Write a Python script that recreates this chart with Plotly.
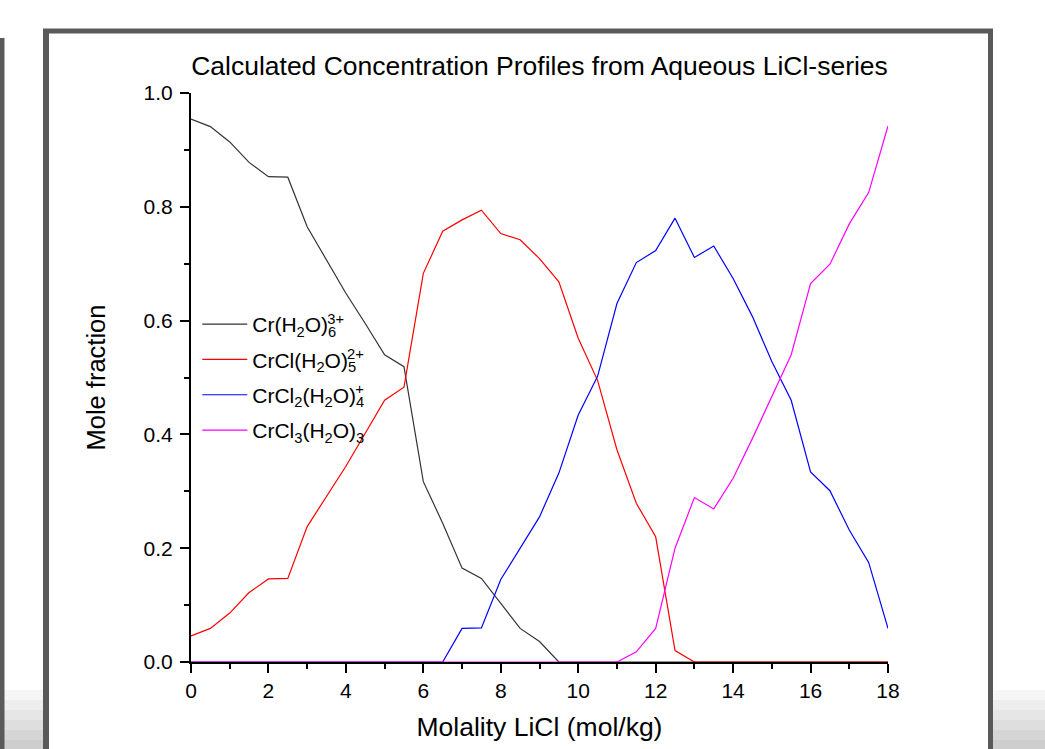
import plotly.graph_objects as go

# ---- data ----
molality = [0, 0.5, 1, 1.5, 2, 2.5, 3, 3.5, 4, 4.5, 5, 5.5, 6, 6.5, 7, 7.5, 8, 8.5, 9,
            9.5, 10, 10.5, 11, 11.5, 12, 12.5, 13, 13.5, 14, 14.5, 15, 15.5, 16, 16.5,
            17, 17.5, 18]

cr_h2o6 = [0.954, 0.941, 0.914, 0.878, 0.853, 0.852, 0.765, 0.707, 0.648, 0.595, 0.540,
           0.519, 0.317, 0.244, 0.165, 0.147, 0.103, 0.059, 0.036, 0.0, 0.0, 0.0, 0.0,
           0.0, 0.0, 0.0, 0.0, 0.0, 0.0, 0.0, 0.0, 0.0, 0.0, 0.0, 0.0, 0.0, 0.0]

crcl_h2o5 = [0.046, 0.059, 0.086, 0.122, 0.146, 0.147, 0.238, 0.290, 0.344, 0.402, 0.460,
             0.483, 0.683, 0.757, 0.777, 0.794, 0.753, 0.742, 0.709, 0.668, 0.569, 0.495,
             0.373, 0.279, 0.220, 0.020, 0.0, 0.0, 0.0, 0.0, 0.0, 0.0, 0.0, 0.0, 0.0, 0.0,
             0.0]

crcl2_h2o4 = [0.0, 0.0, 0.0, 0.0, 0.0, 0.0, 0.0, 0.0, 0.0, 0.0, 0.0, 0.0, 0.0, 0.0,
              0.059, 0.060, 0.145, 0.200, 0.255, 0.332, 0.434, 0.502, 0.630, 0.702, 0.723,
              0.780, 0.711, 0.731, 0.674, 0.607, 0.528, 0.460, 0.334, 0.301, 0.232, 0.175,
              0.059]

crcl3_h2o3 = [0.0, 0.0, 0.0, 0.0, 0.0, 0.0, 0.0, 0.0, 0.0, 0.0, 0.0, 0.0, 0.0, 0.0, 0.0,
              0.0, 0.0, 0.0, 0.0, 0.0, 0.0, 0.0, 0.0, 0.018, 0.059, 0.200, 0.289, 0.269,
              0.323, 0.393, 0.467, 0.540, 0.665, 0.699, 0.770, 0.825, 0.942]

series_names = [
    'Cr(H<sub>2</sub>O)<sub><span style="letter-spacing:-9px">6</span></sub><sup>3+</sup>',
    'CrCl(H<sub>2</sub>O)<sub><span style="letter-spacing:-9px">5</span></sub><sup>2+</sup>',
    'CrCl<sub>2</sub>(H<sub>2</sub>O)<sub><span style="letter-spacing:-9px">4</span></sub><sup>+</sup>',
    'CrCl<sub>3</sub>(H<sub>2</sub>O)<sub>3</sub>',
]
series_values = [cr_h2o6, crcl_h2o5, crcl2_h2o4, crcl3_h2o3]
series_colors = ["#333333", "#ff0000", "#0000ff", "#ff00ff"]

title_text = "Calculated Concentration Profiles from Aqueous LiCl-series"
x_title = "Molality LiCl (mol/kg)"
y_title = "Mole fraction"

FONT = "Liberation Sans, Arial, sans-serif"

# ---- layout geometry (pixels) ----
W, H = 1045, 749
L, R, T, B = 191, 888, 93, 662  # plot area edges


def px(x):
    return (x - L) / (R - L)


def py(y):
    return (B - y) / (B - T)


fig = go.Figure()
for i, (name, vals, col) in enumerate(zip(series_names, series_values, series_colors)):
    fig.add_trace(go.Scatter(x=molality, y=vals, mode="lines", name=name,
                             legendgroup=f"g{i}",
                             line=dict(color=col, width=1.2)))

shapes = []
# page frame (decorative, screenshot of a document)
frame_col = "#5a5a5a"
for i, g in enumerate(["#f6f6f6", "#eeeeee", "#e6e6e6", "#dedede", "#d6d6d6", "#cecece"]):
    y0 = 690 + i * 10
    shapes.append(dict(type="rect", xref="paper", yref="paper", layer="below",
                       x0=px(0), x1=px(46), y0=py(y0 + 10), y1=py(y0),
                       fillcolor=g, line=dict(width=0)))
    shapes.append(dict(type="rect", xref="paper", yref="paper", layer="below",
                       x0=px(990), x1=px(1045), y0=py(y0 + 10), y1=py(y0),
                       fillcolor=g, line=dict(width=0)))
shapes.append(dict(type="line", xref="paper", yref="paper", x0=px(46), x1=px(46),
                   y0=py(31), y1=py(760), line=dict(color=frame_col, width=6)))
shapes.append(dict(type="line", xref="paper", yref="paper", x0=px(990.5), x1=px(990.5),
                   y0=py(31), y1=py(760), line=dict(color=frame_col, width=5)))
shapes.append(dict(type="line", xref="paper", yref="paper", x0=px(43), x1=px(993),
                   y0=py(31), y1=py(31), line=dict(color=frame_col, width=5)))
shapes.append(dict(type="line", xref="paper", yref="paper", x0=px(2), x1=px(2),
                   y0=py(38), y1=py(760), line=dict(color=frame_col, width=5)))

fig.update_layout(
    width=W, height=H,
    margin=dict(l=L, r=W - R, t=T, b=H - B),
    paper_bgcolor="white", plot_bgcolor="white",
    font=dict(family=FONT, color="black"),
    title=dict(text=title_text, x=(L + R) / 2 / W, xanchor="center",
               y=1 - 66 / H, yanchor="middle", font=dict(size=26.5, family=FONT)),
    showlegend=True,
    legend=dict(x=0.009, y=py(304), xanchor="left", yanchor="top",
                bgcolor="rgba(0,0,0,0)", font=dict(size=21, family=FONT),
                tracegroupgap=5, itemwidth=45),
    shapes=shapes,
)

fig.update_xaxes(range=[0, 18], tickmode="linear", tick0=0, dtick=2,
                 showgrid=False, zeroline=False, showline=True, linecolor="black",
                 linewidth=2, ticks="outside", ticklen=9, tickwidth=2, tickcolor="black",
                 tickfont=dict(size=21, family=FONT),
                 minor=dict(dtick=1, ticks="outside", ticklen=5, tickwidth=2,
                            tickcolor="black", showgrid=False),
                 title=dict(text=x_title, font=dict(size=26.5, family=FONT), standoff=16),
                 layer="below traces")
fig.update_yaxes(range=[0, 1], tickmode="linear", tick0=0, dtick=0.2, tickformat=".1f",
                 showgrid=False, zeroline=False, showline=True, linecolor="black",
                 linewidth=2, ticks="outside", ticklen=9, tickwidth=2, tickcolor="black",
                 tickfont=dict(size=21, family=FONT), ticklabelstandoff=3,
                 minor=dict(dtick=0.1, ticks="outside", ticklen=5, tickwidth=2,
                            tickcolor="black", showgrid=False),
                 title=dict(text=y_title, font=dict(size=25.5, family=FONT), standoff=31),
                 layer="below traces")

fig.write_html("out.html")
